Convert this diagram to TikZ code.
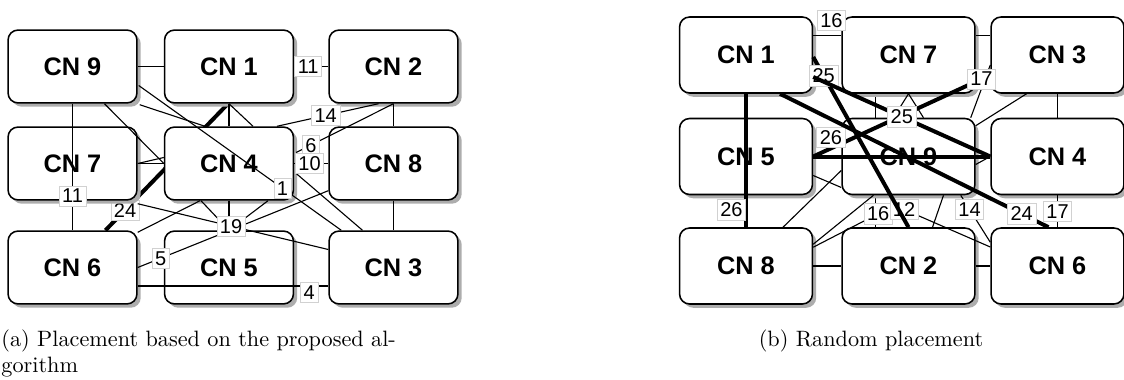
\documentclass[tikz,border=0pt]{standalone}
\usepackage{fontspec}
\newfontfamily\cnfont{Liberation Sans}
\usetikzlibrary{calc,shadows,backgrounds}
\tikzset{
  cnbox/.style={draw, line width=0.7pt, rounded corners=4.5pt, fill=white,
    minimum width=58pt, minimum height=32.8pt, inner sep=0pt,
    font=\cnfont\bfseries\fontsize{11.4}{13}\selectfont,
    drop shadow={shadow xshift=1.7pt, shadow yshift=-1.7pt, fill=black!32, opacity=1}},
  cnboxb/.style={cnbox, minimum width=59.8pt, minimum height=34.2pt},
  wire/.style={line width=0.5pt},
  heavy/.style={line width=1.8pt},
  lbl/.style={draw=black!18, line width=0.3pt, fill=white, inner sep=1.4pt,
    font=\cnfont\fontsize{9}{10}\selectfont},
}
\begin{document}
\begin{tikzpicture}[x=0.45pt, y=-0.45pt]
\useasboundingbox (0,0) rectangle (1124,380);

\foreach \n/\x/\y in {9/72.5/66.5, 1/229/66.5, 2/393.5/66.5, 7/72.5/163.5, 4/229/163.5, 8/393.5/163.5, 6/72.5/267.5, 5/229/267.5, 3/393.5/267.5} {
	\node[cnbox] (a\n) at (\x,\y) {CN \n};
}

\foreach \n/\x/\y in {1/746/55, 7/908.5/55, 3/1057.5/55, 5/746/156.5, 9/908.5/156.5, 4/1057.5/156.5, 8/746/266, 2/908.5/266, 6/1057.5/266} {
	\node[cnboxb] (b\n) at (\x,\y) {CN \n};
}

\begin{pgfonlayer}{background}
\draw[heavy] ($(a1.south)+(-1,0)$) -- ($(a6.north)+(33,0)$) node[lbl, pos=.84] {24};
\draw[wire] ($(b7.south)+(-33,0)$) -- ($(b2.north)+(-33,0)$);
\end{pgfonlayer}

\draw[wire] (a9) -- (a1);
\draw[wire] (a1) -- (a2) node[lbl, pos=.41] {11};
\draw[wire] (a9) -- (a6) node[lbl, pos=.73] {11};
\draw[wire] ($(a9.east)+(1,19)$) -- ($(a3.north west)+(13,0)$) node[lbl, pos=.71] {1};
\draw[wire] ($(a9.south)+(32,0)$) -- (a4.west);
\draw[wire] ($(a9.south east)+(2,1)$) -- ($(a4.north)+(-24,0)$);
\draw[wire] (a1) -- (a4);
\draw[wire] (a1.south) -- ($(a4.north)+(24,0)$);
\draw[wire] ($(a2.south)+(-15,0)$) -- ($(a4.north)+(48,0)$) node[lbl, pos=.52] {14};
\draw[wire] (a2.south) -- ($(a4.east)+(2,-11)$) node[lbl, pos=.85] {6};
\draw[wire] ($(a4.east)+(2,10)$) -- ($(a3.north)+(-31,0)$);
\draw[wire] (a4) -- (a8) node[lbl, pos=.45] {10};
\draw[wire] (a2) -- (a8);
\draw[wire] (a8) -- (a3);
\draw[wire] (a7) -- (a4);
\draw[wire] (a7.east) -- ($(a4.west)+(0,-6)$);
\draw[wire] ($(a6.north east)+(0,2)$) -- ($(a4.south)+(-29,0)$);
\draw[wire] (a4) -- (a5);
\draw[wire] ($(a4.south)+(-28,0)$) -- (a5.north);
\draw[wire] ($(a4.south)+(39,0)$) -- (a5.north);
\draw[wire] ($(a6.east)+(0,18.5)$) -- ($(a3.west)+(0,18.5)$) node[lbl, pos=.9, yshift=-3pt] {4};
\draw[wire] (a6.east) -- ($(a8.south west)+(0,-10)$) node[lbl, pos=.12] {5};
\draw[wire] ($(a7.south east)+(0,3)$) -- ($(a3.west)+(0,-18)$) node[lbl, pos=.49] {19};

\draw[wire] ($(b1.north east)+(0,19)$) -- ($(b7.north west)+(0,19)$) node[lbl, pos=.65, above=2pt] {16};
\draw[wire] ($(b7.north east)+(0,19)$) -- ($(b3.north west)+(0,19)$);
\draw[wire] (b3) -- (b4);
\draw[wire] ($(b3.south)+(-31,0)$) -- ($(b9.north east)+(0,8)$);
\draw[wire] ($(b3.west)+(0,10)$) -- ($(b9.north east)+(-5,0)$);
\draw[wire] (b7.south) -- ($(b9.north)+(-15,0)$);
\draw[wire] (b7.south) -- ($(b9.north)+(15,0)$);
\draw[wire] ($(b9.east)+(0,8)$) -- (b4.west);
\draw[wire] ($(b5.east)+(0,19)$) -- ($(b9.west)+(0,31)$);
\draw[wire] ($(b8.north)+(37,0)$) -- ($(b9.west)+(0,14)$);
\draw[wire] ($(b8.north east)+(0,17)$) -- ($(b9.south)+(-35,0)$);
\coordinate (kink) at ($(b9.south)+(-14,10)$);
\draw[wire] ($(b8.north east)+(0,20)$) -- (kink) node[lbl, pos=.8] {16} -- ($(b6.west)+(0,-19)$) node[lbl, pos=.1] {12};
\draw[wire] ($(b9.south)+(35,0)$) -- ($(b2.north)+(24,0)$);
\draw[wire] ($(b9.south east)+(-15,0)$) -- ($(b6.north west)+(0,15)$) node[lbl, pos=.3] {14};
\draw[wire] (b4) -- (b6) node[lbl, pos=.5] {17};
\draw[wire] (b8) -- (b2);
\draw[wire] (b2) -- (b6);

\draw[heavy] (b1) -- (b8) node[lbl, pos=.87, left=0pt] {26};
\draw[heavy] (b5) -- (b4);
\draw[heavy] (b5.east) -- ($(b3.west)+(0,20)$) node[lbl, pos=.95] {17} node[lbl, pos=.1, yshift=5pt] {26};
\draw[heavy] ($(b1.south)+(34,0)$) -- ($(b6.north)+(-9,0)$) node[lbl, pos=.9] {24};
\draw[heavy] ($(b1.east)+(0,2)$) -- (b2.north) node[lbl, pos=.11] {25};
\draw[heavy] ($(b1.east)+(0,22)$) -- (b4.west) node[lbl, pos=.5] {25};

\node[anchor=north west, align=left, inner sep=0pt] (capa) at (1,329) {(a) Placement based on the proposed al-\\gorithm};
\node[anchor=north, inner sep=0pt] (capb) at (871,329) {(b) Random placement};
\end{tikzpicture}
\end{document}
